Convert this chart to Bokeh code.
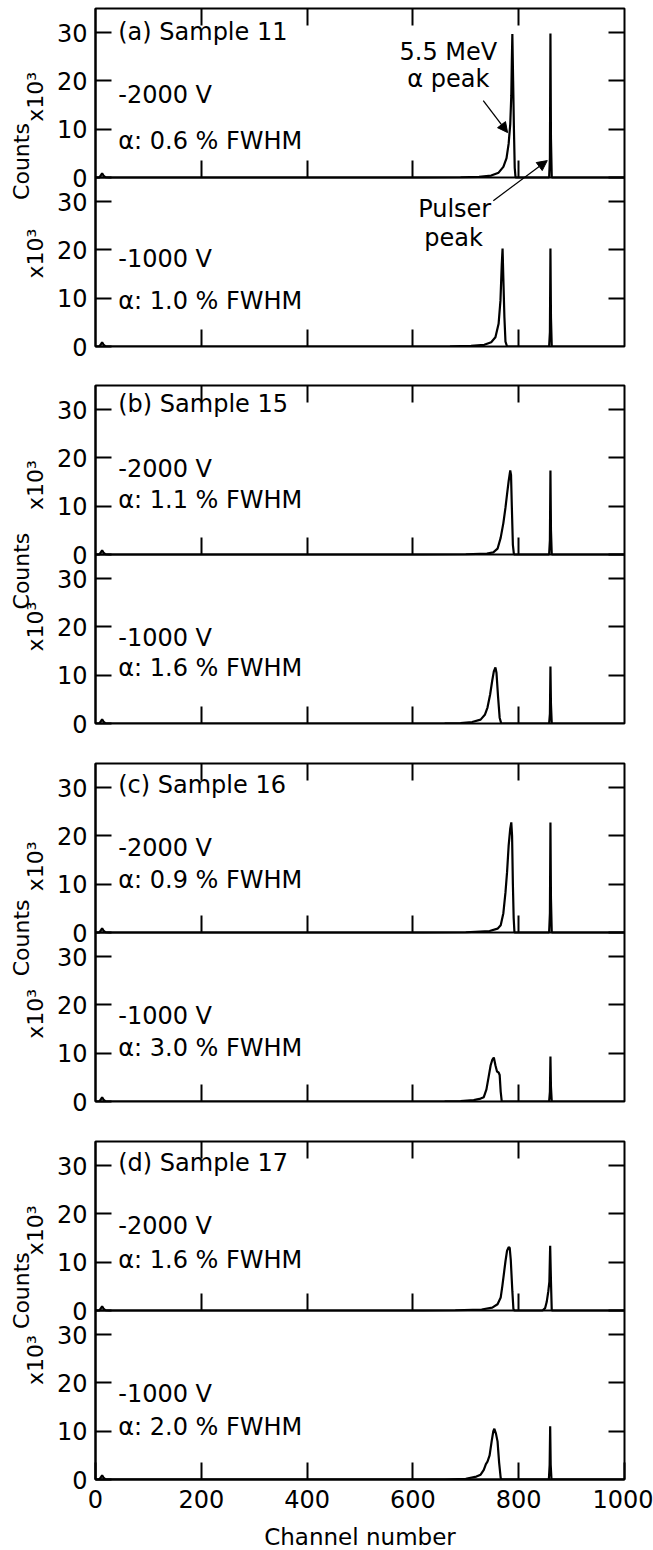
import math
from bokeh.plotting import figure
from bokeh.layouts import column, row
from bokeh.models import (Range1d, FixedTicker, Arrow, NormalHead, Span, Grid)
from bokeh.core.properties import value
from bokeh.embed import file_html
from bokeh.resources import INLINE

FONT = "DejaVu Sans"

# ---------------- data (channel, counts x10^3) ----------------
X_TICKS = [0, 200, 400, 600, 800, 1000]
Y_TICKS = [0, 10, 20, 30]
X_MAX = 1000
Y_MAX = 35

a_2000_ch = [0, 7, 10, 12.5, 15, 19, 26, 620, 690, 725, 748, 762, 771, 777, 781, 784, 786, 787, 788, 789.5, 791, 792.5, 794, 852, 857.5, 859, 860, 861, 862.5, 1000]
a_2000_cnt = [0, 0, 0.4, 0.9, 0.4, 0.05, 0, 0, 0.05, 0.15, 0.4, 1.0, 2.2, 4.0, 7.0, 11.0, 17.0, 24.0, 29.7, 20.0, 10.0, 2.0, 0, 0, 0, 4, 29.8, 8, 0, 0]
a_1000_ch = [0, 7, 10, 12.5, 15, 19, 26, 600, 670, 710, 735, 748, 756, 762, 765.5, 768, 769.5, 771, 773, 775, 778, 852, 857.5, 859, 860, 861, 862.5, 1000]
a_1000_cnt = [0, 0, 0.4, 0.9, 0.4, 0.05, 0, 0, 0.05, 0.15, 0.35, 0.9, 1.9, 4.7, 9.5, 17.0, 20.3, 14.0, 6.0, 1.0, 0, 0, 0, 3, 20.3, 6, 0, 0]

b_2000_ch = [0, 7, 10, 12.5, 15, 19, 26, 620, 700, 740, 752, 760, 766, 771, 775, 778, 781, 784, 785.5, 787, 789, 791, 852, 857.5, 859, 860, 861, 862.5, 1000]
b_2000_cnt = [0, 0, 0.4, 0.9, 0.4, 0.05, 0, 0, 0.05, 0.2, 0.45, 1.2, 3.5, 6.5, 9.7, 12.5, 15.2, 17.4, 16.5, 10.0, 2.0, 0, 0, 0, 3, 17.4, 5, 0, 0]
b_1000_ch = [0, 7, 10, 12.5, 15, 19, 26, 600, 660, 690, 712, 728, 736, 741, 746, 750, 753, 756, 758, 761, 764, 767, 852, 857.5, 859, 860, 861, 862.5, 1000]
b_1000_cnt = [0, 0, 0.4, 0.9, 0.4, 0.05, 0, 0, 0.05, 0.1, 0.3, 0.8, 1.8, 3.3, 6.0, 8.9, 10.8, 11.6, 10.5, 5.5, 1.2, 0, 0, 0, 2, 11.8, 4, 0, 0]

c_2000_ch = [0, 7, 10, 12.5, 15, 19, 26, 620, 700, 745, 760, 766, 771, 775, 778, 781, 784, 786, 787.5, 789, 790.5, 792, 852, 857.5, 859, 860, 861, 862.5, 1000]
c_2000_cnt = [0, 0, 0.4, 0.9, 0.4, 0.05, 0, 0, 0.05, 0.3, 0.8, 1.5, 4.0, 8.3, 12.5, 18.0, 21.5, 22.8, 20.0, 10.0, 3.0, 0, 0, 0, 4, 22.8, 7, 0, 0]
c_1000_ch = [0, 7, 10, 12.5, 15, 19, 26, 600, 660, 690, 715, 728, 734, 739, 743, 747, 750, 753, 756, 759, 762, 764, 766, 768, 852, 857.5, 859, 860, 861, 862.5, 1000]
c_1000_cnt = [0, 0, 0.4, 0.9, 0.4, 0.05, 0, 0, 0.05, 0.1, 0.3, 0.6, 0.9, 2.5, 5.0, 7.5, 8.6, 9.1, 7.5, 6.2, 6.0, 5.5, 2.0, 0, 0, 0, 2, 9.3, 3, 0, 0]

d_2000_ch = [0, 7, 10, 12.5, 15, 19, 26, 620, 680, 730, 750, 760, 766, 769, 772, 775, 778, 781, 783, 785, 788, 790, 792, 845, 850, 853, 856, 858, 859.5, 861, 862.5, 1000]
d_2000_cnt = [0, 0, 0.4, 0.9, 0.4, 0.05, 0, 0, 0.05, 0.2, 0.6, 1.3, 2.7, 5.0, 7.6, 10.2, 12.4, 13.1, 13.0, 10.5, 4.0, 0.3, 0, 0, 0.5, 1.8, 4.0, 6.0, 13.4, 6, 0, 0]
d_1000_ch = [0, 7, 10, 12.5, 15, 19, 26, 600, 660, 700, 720, 728, 734, 738, 741, 745, 749, 752, 754, 757, 760, 763, 766, 768, 852, 857, 858.5, 859.5, 860.5, 862, 1000]
d_1000_cnt = [0, 0, 0.4, 0.9, 0.4, 0.05, 0, 0, 0, 0.15, 0.6, 1.0, 2.0, 3.2, 3.7, 5.0, 8.0, 10.0, 10.5, 9.5, 7.9, 3.5, 0.3, 0, 0, 0, 3, 11.0, 3, 0, 0]

sample_titles = ["(a) Sample 11", "(b) Sample 15", "(c) Sample 16", "(d) Sample 17"]
fwhm_2000 = ["0.6", "1.1", "0.9", "1.6"]
fwhm_1000 = ["1.0", "1.6", "3.0", "2.0"]
spectra_2000 = [(a_2000_ch, a_2000_cnt), (b_2000_ch, b_2000_cnt), (c_2000_ch, c_2000_cnt), (d_2000_ch, d_2000_cnt)]
spectra_1000 = [(a_1000_ch, a_1000_cnt), (b_1000_ch, b_1000_cnt), (c_1000_ch, c_1000_cnt), (d_1000_ch, d_1000_cnt)]

# ---------------- layout constants ----------------
FRAME_W = 529
PANEL_H = 169
LAB_W = 50
LEFT = 45
RIGHT = 29
PX_X = FRAME_W / X_MAX
PX_Y = PANEL_H / Y_MAX
TEXT_X = 43
# text centres (data units of each panel): title, -2000 V, alpha(-2000), -1000 V, alpha(-1000)
text_y = [
    (30.2, 17.0, 7.5, 18.2, 9.5),
    (31.1, 17.8, 11.2, 17.8, 11.4),
    (30.6, 17.4, 10.8, 17.8, 11.0),
    (30.6, 17.4, 10.4, 17.8, 10.8),
]
# y-title centres: pixel offset from the middle boundary (positive = down)
ytitle_off = [(-83, -14, 84), (-83, 13, 75), (-80, 0, 85), (-80, -2, 88)]
borders = [(8, 14), (25, 14), (26, 14), (26, 71)]
TICK_X = 17
TICK_Y = 16


def tick_marks(p, dim, ticks, lo, hi):
    if "cross_bounds" in Grid.properties():
        p.add_layout(Grid(dimension=dim, ticker=FixedTicker(ticks=ticks), cross_bounds=(lo, hi),
                          grid_line_color="black", grid_line_width=2))
    elif dim == 0:
        p.segment(x0=ticks, y0=[lo] * len(ticks), x1=ticks, y1=[hi] * len(ticks),
                  line_color="black", line_width=2)
    else:
        p.segment(x0=[lo] * len(ticks), y0=ticks, x1=[hi] * len(ticks), y1=ticks,
                  line_color="black", line_width=2)


def make_group(i):
    top, bottom = borders[i]
    last = i == 3
    H = top + 2 * PANEL_H + bottom
    p = figure(frame_width=FRAME_W, frame_height=2 * PANEL_H,
               x_range=Range1d(0, X_MAX), y_range=Range1d(0, 2 * Y_MAX),
               output_backend="svg", toolbar_location=None,
               min_border_left=LEFT, min_border_right=RIGHT,
               min_border_top=top, min_border_bottom=bottom)
    p.extra_y_ranges = {"up": Range1d(-Y_MAX, Y_MAX)}
    p.grid.visible = False
    p.outline_line_color = "black"
    p.outline_line_width = 2
    p.background_fill_color = "white"
    p.border_fill_color = "white"

    # left axis: lower panel ticks + upper panel ticks
    yt = Y_TICKS + [t + Y_MAX for t in Y_TICKS]
    ly = p.yaxis[0]
    ly.ticker = FixedTicker(ticks=yt)
    ly.major_label_overrides = {t + Y_MAX: str(t) for t in Y_TICKS}
    ly.axis_line_color = "black"
    ly.axis_line_width = 2
    ly.major_tick_in = TICK_Y
    ly.major_tick_out = 0
    ly.major_tick_line_width = 2
    ly.major_tick_line_color = "black"
    ly.minor_tick_line_color = None
    ly.major_label_text_font = FONT
    ly.major_label_text_font_size = "24px"
    ly.major_label_text_color = "black"
    ly.major_label_standoff = 8

    bx = p.xaxis[0]
    inner = [t for t in X_TICKS if 0 < t < X_MAX]
    tlx = TICK_X / PX_Y
    if last:
        bx.ticker = FixedTicker(ticks=X_TICKS)
        bx.axis_line_color = "black"
        bx.axis_line_width = 2
        bx.major_tick_in = TICK_X
        bx.major_tick_out = 0
        bx.major_tick_line_width = 2
        bx.major_tick_line_color = "black"
        bx.minor_tick_line_color = None
        bx.major_label_text_font = FONT
        bx.major_label_text_font_size = "24px"
        bx.major_label_text_color = "black"
        bx.major_label_standoff = 10
        bx.axis_label = "Channel number"
        bx.axis_label_text_font = FONT
        bx.axis_label_text_font_size = "23px"
        bx.axis_label_text_font_style = "normal"
        bx.axis_label_text_color = "black"
        bx.axis_label_standoff = 13
    else:
        bx.visible = False
        tick_marks(p, 0, inner, 0, tlx)

    # ticks of top edge, middle boundary and right edge
    tick_marks(p, 0, inner, 2 * Y_MAX - tlx, 2 * Y_MAX)
    tick_marks(p, 0, inner, Y_MAX, Y_MAX + tlx)
    tick_marks(p, 1, yt, X_MAX - TICK_Y / PX_X, X_MAX)
    p.add_layout(Span(location=Y_MAX, dimension="width", line_color="black", line_width=2))

    # spectra
    hc, hn = spectra_2000[i]
    lc, ln = spectra_1000[i]
    p.line(hc, hn, y_range_name="up", line_color="black", line_width=2.2)
    p.line(lc, ln, line_color="black", line_width=2.2)

    ty = text_y[i]
    tkw = dict(text_font=value(FONT), text_font_size=value("24px"), text_color="black",
               text_baseline="middle", text_align="left")
    p.text(x=[TEXT_X] * 3, y=[ty[0], ty[1], ty[2]],
           text=[sample_titles[i], "-2000 V", "\u03b1: " + fwhm_2000[i] + " % FWHM"],
           y_range_name="up", **tkw)
    p.text(x=[TEXT_X] * 2, y=[ty[3], ty[4]],
           text=["-1000 V", "\u03b1: " + fwhm_1000[i] + " % FWHM"], **tkw)

    if i == 0:
        ckw = dict(text_font=value(FONT), text_font_size=value("24px"), text_color="black",
                   text_baseline="middle", text_align="center")
        p.text(x=[667, 667], y=[26.0, 20.3], text=["5.5 MeV", "\u03b1 peak"], y_range_name="up", **ckw)
        p.text(x=[679, 677], y=[28.5, 22.4], text=["Pulser", "peak"], **ckw)
        p.add_layout(Arrow(end=NormalHead(size=10, fill_color="black", line_color="black"),
                           x_start=733, y_start=Y_MAX + 15.9, x_end=779, y_end=Y_MAX + 9.3,
                           line_color="black", line_width=1.3))
        p.add_layout(Arrow(end=NormalHead(size=10, fill_color="black", line_color="black"),
                           x_start=752, y_start=30.2, x_end=854, y_end=Y_MAX + 3.5,
                           line_color="black", line_width=1.3))

    # y-title strip on the left
    lab = figure(width=LAB_W, height=H, x_range=Range1d(0, LAB_W), y_range=Range1d(0, H),
                 x_axis_type=None, y_axis_type=None, min_border=0, outline_line_color=None,
                 output_backend="svg", toolbar_location=None)
    lab.grid.visible = False
    mid = top + PANEL_H
    o1, o2, o3 = ytitle_off[i]
    lab.text(x=[35, 21, 35], y=[H - (mid + o1), H - (mid + o2), H - (mid + o3)],
             text=["x10\u00b3", "Counts", "x10\u00b3"], angle=math.pi / 2,
             text_font=value(FONT), text_font_size=value("22px"), text_color="black",
             text_baseline="middle", text_align="center")
    return row(lab, p, spacing=0)


groups = [make_group(i) for i in range(4)]
layout = column(*groups, spacing=0)
open("out.html", "w").write(file_html(layout, INLINE))
